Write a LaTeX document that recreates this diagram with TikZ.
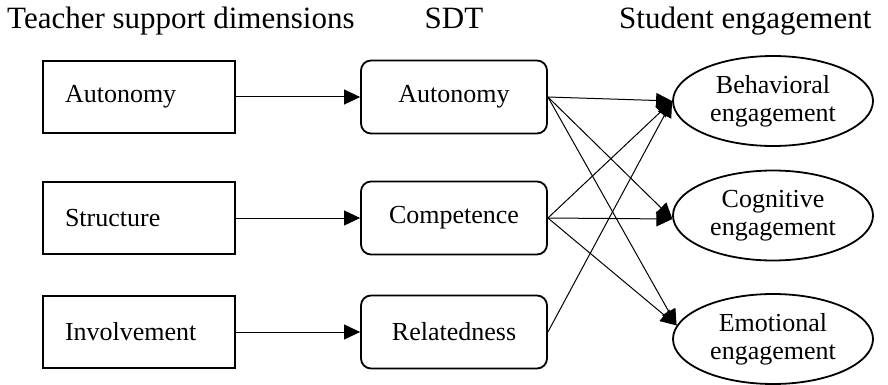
\documentclass[tikz,border=0pt]{standalone}
\usepackage{fontspec}
\setmainfont{Liberation Serif}
\usetikzlibrary{shapes.geometric,arrows.meta}
\begin{document}
\begin{tikzpicture}[x=1pt,y=-1pt,
  boxtext/.style={font=\fontsize{26}{28}\selectfont},
  titletext/.style={font=\fontsize{31}{33}\selectfont, inner sep=0pt},
  leftbox/.style={boxtext, draw, line width=1.8pt, minimum width=192pt, minimum height=72pt,
    inner xsep=0pt, text width=148pt, align=left},
  midbox/.style={boxtext, draw, line width=1.8pt, rounded corners=10pt,
    minimum width=186pt, minimum height=73pt},
  ell/.style={boxtext, draw, ellipse, line width=1.8pt, minimum width=200pt,
    minimum height=90pt, inner sep=0pt, align=center},
  conn/.style={line width=1pt, -{Triangle[length=16pt,width=15pt]}},
  plain/.style={line width=1pt}
]
\useasboundingbox (0,0) rectangle (888,385);

% titles
\node[titletext, anchor=base west] (t1) at (7,29) {Teacher support dimensions};
\node[titletext, anchor=base] (t2) at (454,29) {SDT};
\node[titletext, anchor=base west] (t3) at (619,29) {Student engagement};

% left boxes
\node[leftbox] (l1) at (139,97) {Autonomy};
\node[leftbox] (l2) at (139,218) {Structure};
\node[leftbox] (l3) at (139,332) {Involvement};

% middle boxes
\node[midbox] (m1) at (454,97) {Autonomy};
\node[midbox] (m2) at (454,218) {Competence};
\node[midbox] (m3) at (454,332) {Relatedness};

% ellipses
\node[ell] (e1) at (773,101) {Behavioral\\engagement};
\node[ell] (e2) at (773,215.5) {Cognitive\\engagement};
\node[ell] (e3) at (773,339) {Emotional\\engagement};

% left to middle
\draw[conn] (l1) -- (m1);
\draw[conn] (l2) -- (m2);
\draw[conn] (l3) -- (m3);

% middle to right
\draw[conn] (m1.east) -- (e1.west);
\draw[conn] (m1.east) -- (e2.182);
\draw[conn] (m1.east) -- (e3.172);
\draw[conn] (m2.east) -- (e1.west);
\draw[conn] (m2.east) -- (e2.182);
\draw[conn] (m2.east) -- (e3.172);
\draw[conn] (m3.east) -- (e1.west);
\end{tikzpicture}
\end{document}
